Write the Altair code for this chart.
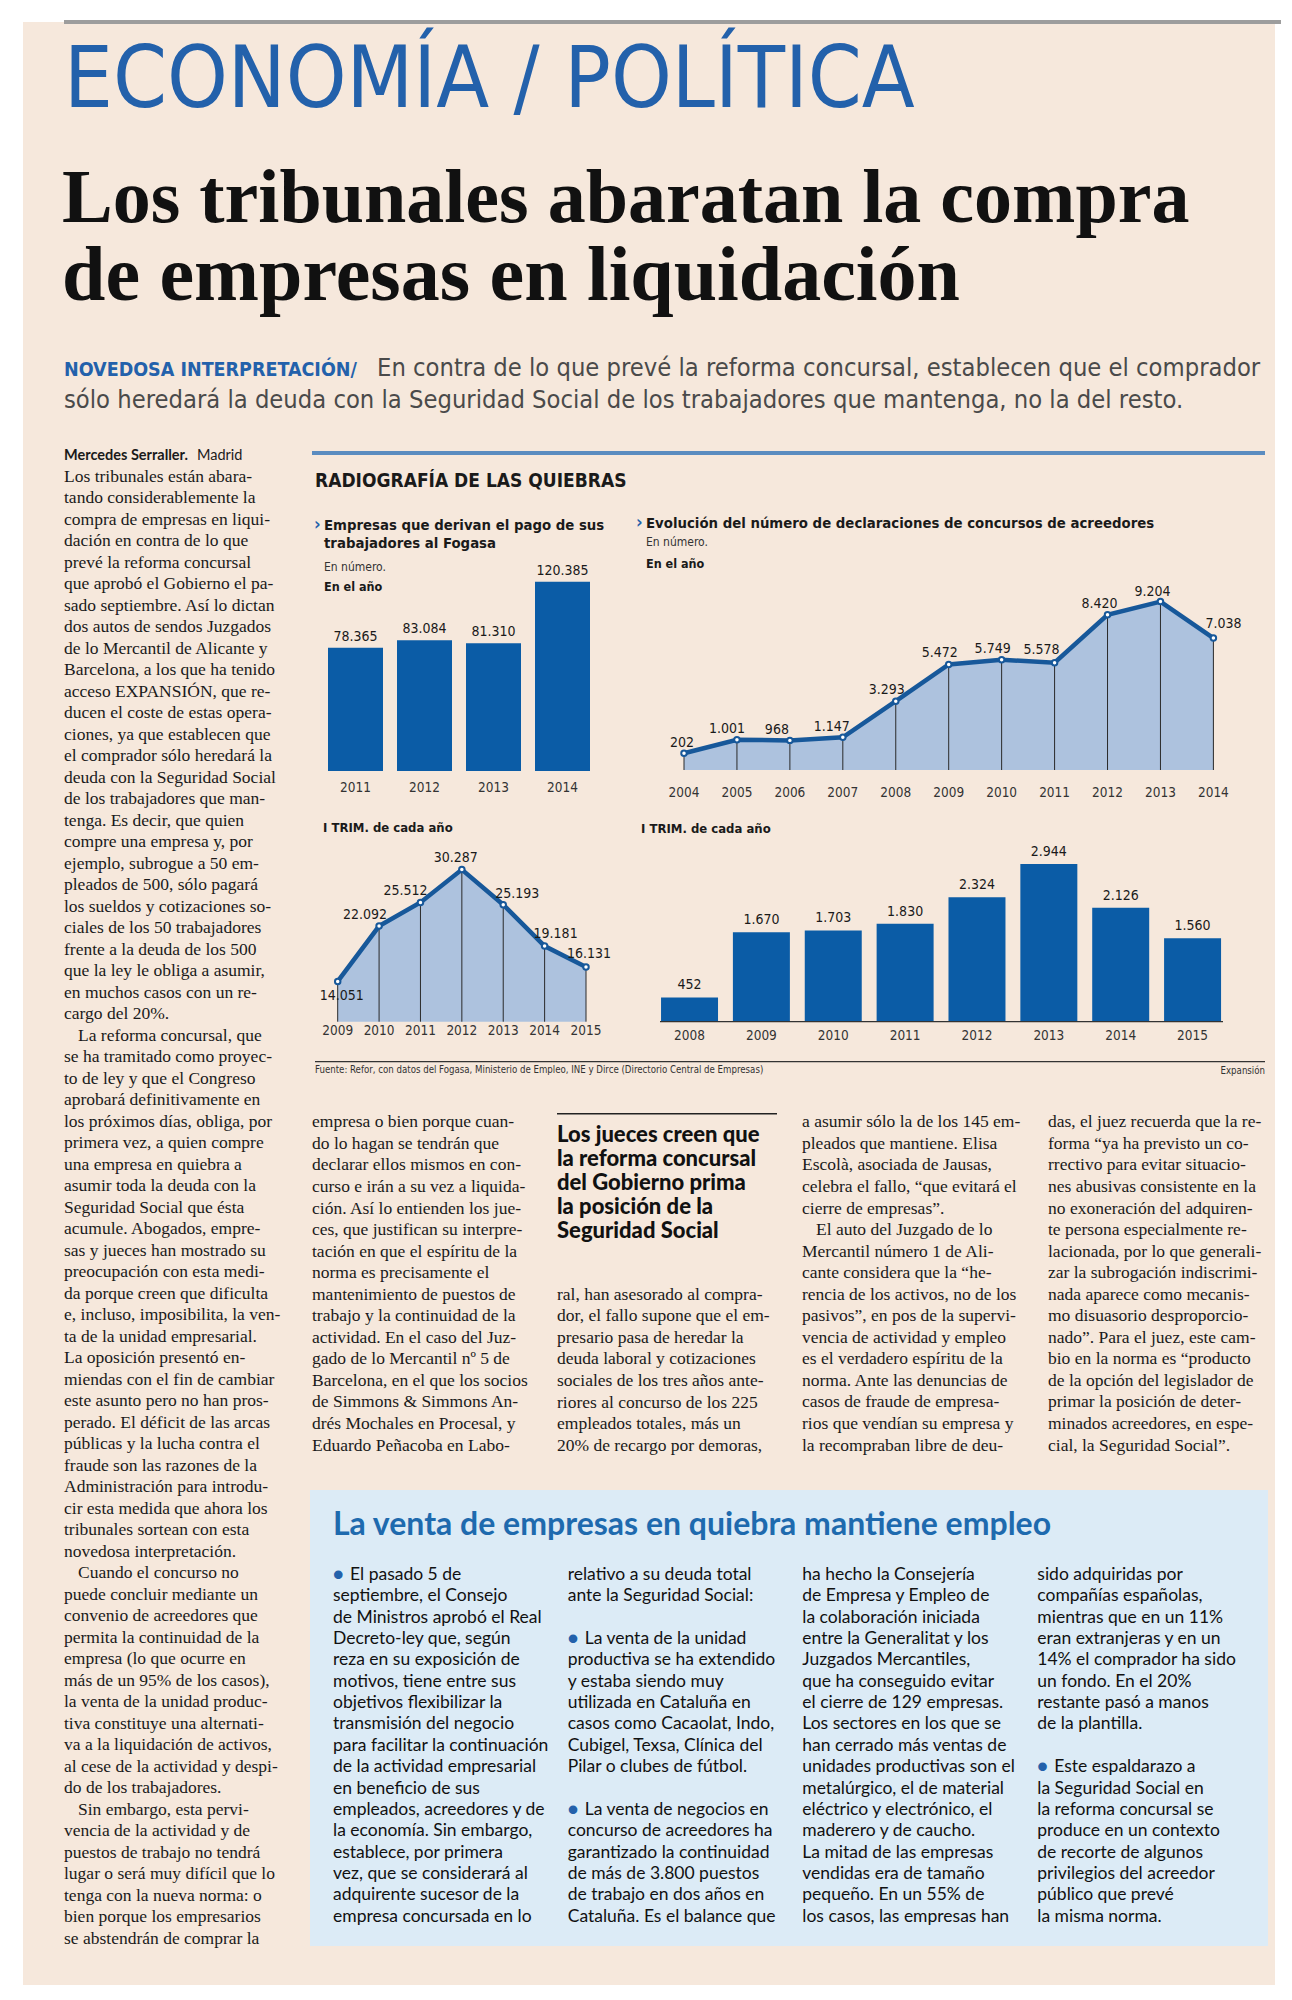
import altair as alt
import pandas as pd

# ---------------- data ----------------
fogasa_years = ["2011", "2012", "2013", "2014"]
fogasa_values = [78365, 83084, 81310, 120385]
fogasa_labels = ["78.365", "83.084", "81.310", "120.385"]

concursos_years = [2004, 2005, 2006, 2007, 2008, 2009, 2010, 2011, 2012, 2013, 2014]
concursos_values = [202, 1001, 968, 1147, 3293, 5472, 5749, 5578, 8420, 9204, 7038]
concursos_labels = ["202", "1.001", "968", "1.147", "3.293", "5.472", "5.749", "5.578", "8.420", "9.204", "7.038"]

fogasa_t1_years = [2009, 2010, 2011, 2012, 2013, 2014, 2015]
fogasa_t1_values = [14051, 22092, 25512, 30287, 25193, 19181, 16131]
fogasa_t1_labels = ["14.051", "22.092", "25.512", "30.287", "25.193", "19.181", "16.131"]

concursos_t1_years = ["2008", "2009", "2010", "2011", "2012", "2013", "2014", "2015"]
concursos_t1_values = [452, 1670, 1703, 1830, 2324, 2944, 2126, 1560]
concursos_t1_labels = ["452", "1.670", "1.703", "1.830", "2.324", "2.944", "2.126", "1.560"]

left_column = [
    "Los tribunales están abara-", "tando considerablemente la", "compra de empresas en liqui-",
    "dación en contra de lo que", "prevé la reforma concursal", "que aprobó el Gobierno el pa-",
    "sado septiembre. Así lo dictan", "dos autos de sendos Juzgados", "de lo Mercantil de Alicante y",
    "Barcelona, a los que ha tenido", "acceso EXPANSIÓN, que re-", "ducen el coste de estas opera-",
    "ciones, ya que establecen que", "el comprador sólo heredará la", "deuda con la Seguridad Social",
    "de los trabajadores que man-", "tenga. Es decir, que quien", "compre una empresa y, por",
    "ejemplo, subrogue a 50 em-", "pleados de 500, sólo pagará", "los sueldos y cotizaciones so-",
    "ciales de los 50 trabajadores", "frente a la deuda de los 500", "que la ley le obliga a asumir,",
    "en muchos casos con un re-", "cargo del 20%.", "\tLa reforma concursal, que",
    "se ha tramitado como proyec-", "to de ley y que el Congreso", "aprobará definitivamente en",
    "los próximos días, obliga, por", "primera vez, a quien compre", "una empresa en quiebra a",
    "asumir toda la deuda con la", "Seguridad Social que ésta", "acumule. Abogados, empre-",
    "sas y jueces han mostrado su", "preocupación con esta medi-", "da porque creen que dificulta",
    "e, incluso, imposibilita, la ven-", "ta de la unidad empresarial.", "La oposición presentó en-",
    "miendas con el fin de cambiar", "este asunto pero no han pros-", "perado. El déficit de las arcas",
    "públicas y la lucha contra el", "fraude son las razones de la", "Administración para introdu-",
    "cir esta medida que ahora los", "tribunales sortean con esta", "novedosa interpretación.",
    "\tCuando el concurso no", "puede concluir mediante un", "convenio de acreedores que",
    "permita la continuidad de la", "empresa (lo que ocurre en", "más de un 95% de los casos),",
    "la venta de la unidad produc-", "tiva constituye una alternati-", "va a la liquidación de activos,",
    "al cese de la actividad y despi-", "do de los trabajadores.", "\tSin embargo, esta pervi-",
    "vencia de la actividad y de", "puestos de trabajo no tendrá", "lugar o será muy difícil que lo",
    "tenga con la nueva norma: o", "bien porque los empresarios", "se abstendrán de comprar la",
]
column_a = [
    "empresa o bien porque cuan-", "do lo hagan se tendrán que", "declarar ellos mismos en con-",
    "curso e irán a su vez a liquida-", "ción. Así lo entienden los jue-", "ces, que justifican su interpre-",
    "tación en que el espíritu de la", "norma es precisamente el", "mantenimiento de puestos de",
    "trabajo y la continuidad de la", "actividad. En el caso del Juz-", "gado de lo Mercantil nº 5 de",
    "Barcelona, en el que los socios", "de Simmons & Simmons An-", "drés Mochales en Procesal, y",
    "Eduardo Peñacoba en Labo-",
]
column_b_head = ["Los jueces creen que", "la reforma concursal", "del Gobierno prima",
                 "la posición de la", "Seguridad Social"]
column_b = [
    "ral, han asesorado al compra-", "dor, el fallo supone que el em-", "presario pasa de heredar la",
    "deuda laboral y cotizaciones", "sociales de los tres años ante-", "riores al concurso de los 225",
    "empleados totales, más un", "20% de recargo por demoras,",
]
column_c = [
    "a asumir sólo la de los 145 em-", "pleados que mantiene. Elisa", "Escolà, asociada de Jausas,",
    "celebra el fallo, “que evitará el", "cierre de empresas”.", "\tEl auto del Juzgado de lo",
    "Mercantil número 1 de Ali-", "cante considera que la “he-", "rencia de los activos, no de los",
    "pasivos”, en pos de la supervi-", "vencia de actividad y empleo", "es el verdadero espíritu de la",
    "norma. Ante las denuncias de", "casos de fraude de empresa-", "rios que vendían su empresa y",
    "la recompraban libre de deu-",
]
column_d = [
    "das, el juez recuerda que la re-", "forma “ya ha previsto un co-", "rrectivo para evitar situacio-",
    "nes abusivas consistente en la", "no exoneración del adquiren-", "te persona especialmente re-",
    "lacionada, por lo que generali-", "zar la subrogación indiscrimi-", "nada aparece como mecanis-",
    "mo disuasorio desproporcio-", "nado”. Para el juez, este cam-", "bio en la norma es “producto",
    "de la opción del legislador de", "primar la posición de deter-", "minados acreedores, en espe-",
    "cial, la Seguridad Social”.",
]
box_col1 = [
    "● El pasado 5 de", "septiembre, el Consejo", "de Ministros aprobó el Real", "Decreto-ley que, según",
    "reza en su exposición de", "motivos, tiene entre sus", "objetivos flexibilizar la",
    "transmisión del negocio", "para facilitar la continuación", "de la actividad empresarial",
    "en beneficio de sus", "empleados, acreedores y de", "la economía. Sin embargo,",
    "establece, por primera", "vez, que se considerará al", "adquirente sucesor de la",
    "empresa concursada en lo",
]
box_col2 = [
    "relativo a su deuda total", "ante la Seguridad Social:", "", "● La venta de la unidad",
    "productiva se ha extendido", "y estaba siendo muy", "utilizada en Cataluña en",
    "casos como Cacaolat, Indo,", "Cubigel, Texsa, Clínica del", "Pilar o clubes de fútbol.", "",
    "● La venta de negocios en", "concurso de acreedores ha", "garantizado la continuidad",
    "de más de 3.800 puestos", "de trabajo en dos años en", "Cataluña. Es el balance que",
]
box_col3 = [
    "ha hecho la Consejería", "de Empresa y Empleo de", "la colaboración iniciada",
    "entre la Generalitat y los", "Juzgados Mercantiles,", "que ha conseguido evitar",
    "el cierre de 129 empresas.", "Los sectores en los que se", "han cerrado más ventas de",
    "unidades productivas son el", "metalúrgico, el de material", "eléctrico y electrónico, el",
    "maderero y de caucho.", "La mitad de las empresas", "vendidas era de tamaño",
    "pequeño. En un 55% de", "los casos, las empresas han",
]
box_col4 = [
    "sido adquiridas por", "compañías españolas,", "mientras que en un 11%", "eran extranjeras y en un",
    "14% el comprador ha sido", "un fondo. En el 20%", "restante pasó a manos", "de la plantilla.", "",
    "● Este espaldarazo a", "la Seguridad Social en", "la reforma concursal se",
    "produce en un contexto", "de recorte de algunos", "privilegios del acreedor",
    "público que prevé", "la misma norma.",
]

# ---------------- style ----------------
W, H = 1276, 1984
OFF = 8
NARROW = "Liberation Sans Narrow, DejaVu Sans Condensed, sans-serif"
SERIF = "Liberation Serif, DejaVu Serif, serif"
SANS = "Lato, Open Sans, sans-serif"
BLUE = "#2361ab"
BAR = "#0b5ca6"
LINE = "#17589a"
AREA = "#adc2de"
BEIGE = "#f6e8dc"
BOXBLUE = "#dcebf6"


def P(v):
    return v - OFF


one = pd.DataFrame({"a": [0]})


def rect(x0, y0, x1, y1, color):
    return alt.Chart(one).mark_rect(color=color).encode(
        x=alt.value(P(x0)), x2=alt.value(P(x1)), y=alt.value(P(y0)), y2=alt.value(P(y1)))


def label(s, x, y, size, font, color="#1a1a1a", weight="normal", align="left"):
    return alt.Chart(one).mark_text(
        text=s, align=align, baseline="alphabetic", font=font, fontSize=size,
        fontWeight=weight, color=color).encode(x=alt.value(P(x)), y=alt.value(P(y)))


def para(lines, x, y0, lh, size, font, color="#1a1a1a", weight="normal",
         bullet_color=BLUE, bullet_dx=15, indent=14):
    rows = []
    for i, s in enumerate(lines):
        b = 1 if s.startswith("● ") else 0
        ind = 1 if s.startswith("\t") else 0
        t = s[2:] if b else s.lstrip("\t")
        rows.append({"t": t, "i": i, "b": b, "ind": ind})
    df = pd.DataFrame(rows)
    base = alt.Chart(df).transform_calculate(
        py=f"{P(y0)} + datum.i * {lh}",
        px=f"{P(x)} + datum.b * {bullet_dx} + datum.ind * {indent}")
    out = [base.mark_text(align="left", baseline="alphabetic", font=font, fontSize=size,
                          fontWeight=weight, color=color).encode(
        x=alt.X("px:Q", scale=None), y=alt.Y("py:Q", scale=None), text="t:N")]
    if df["b"].sum() > 0:
        out.append(base.transform_filter("datum.b == 1").mark_text(
            text="●", align="left", baseline="alphabetic", font=font, fontSize=size,
            color=bullet_color).encode(x=alt.value(P(x)), y=alt.Y("py:Q", scale=None)))
    return out


layers = []

# page background
layers.append(rect(23, 22, 1275, 1985, BEIGE))
layers.append(rect(64, 20, 1281, 24, "#9d9d9d"))

# header
layers.append(label("ECONOMÍA / POLÍTICA", 64, 107, 86, NARROW, color=BLUE))
layers.append(label("Los tribunales abaratan la compra", 62, 222, 76, SERIF, color="#111", weight="bold"))
layers.append(label("de empresas en liquidación", 62, 300, 78, SERIF, color="#111", weight="bold"))
layers.append(label("NOVEDOSA INTERPRETACIÓN/", 64, 376, 19.5, NARROW, color=BLUE, weight="bold"))
layers.append(label("En contra de lo que prevé la reforma concursal, establecen que el comprador",
                    377, 376, 25.3, NARROW, color="#4a4a4a"))
layers.append(label("sólo heredará la deuda con la Seguridad Social de los trabajadores que mantenga, no la del resto.",
                    64, 408, 25.3, NARROW, color="#4a4a4a"))

# left column
layers.append(label("Mercedes Serraller.", 64, 460, 14.5, SANS, color="#1a1a1a", weight="bold"))
layers.append(label("Madrid", 197, 460, 14.5, SANS, color="#1a1a1a"))
layers += para(left_column, 64, 481.5, 21.5, 17.5, SERIF)

# ---------------- infographic ----------------
layers.append(rect(312, 451, 1265, 455, "#5b8cc0"))
layers.append(label("RADIOGRAFÍA DE LAS QUIEBRAS", 315, 487, 19, NARROW, weight="bold"))

TS = 14.8
# chart 1: Fogasa, annual bars
layers.append(label("›", 314, 530, 18, NARROW, color=BLUE, weight="bold"))
layers.append(label("Empresas que derivan el pago de sus", 324, 530, TS, NARROW, weight="bold"))
layers.append(label("trabajadores al Fogasa", 324, 548, TS, NARROW, weight="bold"))
layers.append(label("En número.", 324, 571, 12, NARROW, color="#333"))
layers.append(label("En el año", 324, 591, 12.5, NARROW, weight="bold"))

VS = 14
YS = 13.5
df1 = pd.DataFrame({"year": fogasa_years, "value": fogasa_values, "label": fogasa_labels})
xs1 = alt.Scale(domain=fogasa_years, range=[P(321), P(597)], paddingInner=0.203, paddingOuter=0.1015)
ys1 = alt.Scale(domain=[0, 130000], range=[P(771), P(566.6)], nice=False, zero=False)
c1 = alt.Chart(df1)
layers.append(c1.mark_bar(color=BAR).encode(
    x=alt.X("year:O", scale=xs1, axis=None), y=alt.Y("value:Q", scale=ys1, axis=None)))
layers.append(c1.mark_text(baseline="alphabetic", dy=-7, font=NARROW, fontSize=VS, color="#1a1a1a").encode(
    x=alt.X("year:O", scale=xs1, axis=None), y=alt.Y("value:Q", scale=ys1, axis=None), text="label:N"))
layers.append(c1.mark_text(baseline="alphabetic", font=NARROW, fontSize=YS, color="#333").encode(
    x=alt.X("year:O", scale=xs1, axis=None), y=alt.value(P(792)), text="year:N"))

# chart 2: concursos, annual area
layers.append(label("›", 636, 528, 18, NARROW, color=BLUE, weight="bold"))
layers.append(label("Evolución del número de declaraciones de concursos de acreedores", 646, 528, TS,
                    NARROW, weight="bold"))
layers.append(label("En número.", 646, 546, 12, NARROW, color="#333"))
layers.append(label("En el año", 646, 568, 12.5, NARROW, weight="bold"))

df2 = pd.DataFrame({"year": concursos_years, "value": concursos_values, "label": concursos_labels})
xs2 = alt.Scale(domain=[2004, 2014], range=[P(684), P(1213.4)], nice=False, zero=False)
ys2 = alt.Scale(domain=[-790, 10000], range=[P(770), P(588.2)], nice=False, zero=False)
c2 = alt.Chart(df2)
X2 = alt.X("year:Q", scale=xs2, axis=None)
Y2 = alt.Y("value:Q", scale=ys2, axis=None)
layers.append(c2.mark_area(color=AREA, opacity=1).encode(x=X2, y=Y2, y2=alt.datum(-790)))
layers.append(c2.mark_rule(color="#2a2a2a", strokeWidth=1).encode(x=X2, y=Y2, y2=alt.datum(-790)))
layers.append(c2.mark_line(color=LINE, strokeWidth=4.5).encode(x=X2, y=Y2))
layers.append(c2.mark_point(shape="circle", size=30, filled=True, fill="white", stroke=LINE,
                            strokeWidth=2, opacity=1).encode(x=X2, y=Y2))
nudge2 = {2004: (-2, -6), 2005: (-10, -7), 2006: (-13, -6), 2007: (-11, -6), 2008: (-9, -7),
          2009: (-9, -7), 2010: (-9, -7), 2011: (-13, -9), 2012: (-8, -7), 2013: (-8, -6), 2014: (10, -10)}
for yr, (dx, dy) in nudge2.items():
    layers.append(c2.transform_filter(f"datum.year == {yr}").mark_text(
        baseline="alphabetic", dx=dx, dy=dy, font=NARROW, fontSize=VS, color="#1a1a1a").encode(
        x=X2, y=Y2, text="label:N"))
layers.append(c2.mark_text(baseline="alphabetic", font=NARROW, fontSize=YS, color="#333").encode(
    x=X2, y=alt.value(P(797)), text="year:N"))

# chart 3: Fogasa, first quarter line
layers.append(label("I TRIM. de cada año", 323, 832, 13, NARROW, weight="bold"))
df3 = pd.DataFrame({"year": fogasa_t1_years, "value": fogasa_t1_values, "label": fogasa_t1_labels})
xs3 = alt.Scale(domain=[2009, 2015], range=[P(337.7), P(586)], nice=False, zero=False)
ys3 = alt.Scale(domain=[8200, 32000], range=[P(1021.7), P(857.8)], nice=False, zero=False)
c3 = alt.Chart(df3)
X3 = alt.X("year:Q", scale=xs3, axis=None)
Y3 = alt.Y("value:Q", scale=ys3, axis=None)
layers.append(c3.mark_area(color=AREA, opacity=1).encode(x=X3, y=Y3, y2=alt.datum(8200)))
layers.append(c3.mark_rule(color="#2a2a2a", strokeWidth=1).encode(x=X3, y=Y3, y2=alt.datum(8200)))
layers.append(c3.mark_line(color=LINE, strokeWidth=4.5).encode(x=X3, y=Y3))
layers.append(c3.mark_point(shape="circle", size=30, filled=True, fill="white", stroke=LINE,
                            strokeWidth=2, opacity=1).encode(x=X3, y=Y3))
nudge3 = {2009: (4, 19), 2010: (-14, -7), 2011: (-15, -7), 2012: (-6, -8), 2013: (14, -7),
          2014: (11, -8), 2015: (3, -9)}
for yr, (dx, dy) in nudge3.items():
    layers.append(c3.transform_filter(f"datum.year == {yr}").mark_text(
        baseline="alphabetic", dx=dx, dy=dy, font=NARROW, fontSize=VS, color="#1a1a1a").encode(
        x=X3, y=Y3, text="label:N"))
layers.append(c3.mark_text(baseline="alphabetic", font=NARROW, fontSize=YS, color="#333").encode(
    x=X3, y=alt.value(P(1035)), text="year:N"))

# chart 4: concursos, first quarter bars
layers.append(label("I TRIM. de cada año", 641, 833, 13, NARROW, weight="bold"))
df4 = pd.DataFrame({"year": concursos_t1_years, "value": concursos_t1_values, "label": concursos_t1_labels})
xs4 = alt.Scale(domain=concursos_t1_years, range=[P(653.6), P(1228.5)], paddingInner=0.207, paddingOuter=0.1035)
ys4 = alt.Scale(domain=[0, 3200], range=[P(1021.7), P(850.3)], nice=False, zero=False)
c4 = alt.Chart(df4)
X4 = alt.X("year:O", scale=xs4, axis=None)
Y4 = alt.Y("value:Q", scale=ys4, axis=None)
layers.append(c4.mark_bar(color=BAR).encode(x=X4, y=Y4))
layers.append(alt.Chart(pd.DataFrame({"v": [0]})).mark_rule(color="#333", strokeWidth=1.2).encode(
    y=alt.Y("v:Q", scale=ys4, axis=None), x=alt.value(P(660)), x2=alt.value(P(1223))))
layers.append(c4.mark_text(baseline="alphabetic", dy=-8, font=NARROW, fontSize=VS, color="#1a1a1a").encode(
    x=X4, y=Y4, text="label:N"))
layers.append(c4.mark_text(baseline="alphabetic", font=NARROW, fontSize=YS, color="#333").encode(
    x=X4, y=alt.value(P(1040)), text="year:N"))

# source
layers.append(rect(315, 1061, 1265, 1062.3, "#333"))
layers.append(label("Fuente: Refor, con datos del Fogasa, Ministerio de Empleo, INE y Dirce (Directorio Central de Empresas)",
                    315, 1073, 9.6, NARROW, color="#333"))
layers.append(label("Expansión", 1265, 1074, 9.6, NARROW, color="#333", align="right"))

# ---------------- columns below the infographic ----------------
layers += para(column_a, 312, 1127.3, 21.55, 17.5, SERIF)
layers.append(rect(557, 1113, 777, 1114.5, "#222"))
layers += para(column_b_head, 557, 1141.7, 24.15, 22, SANS, color="#111", weight=900)
layers += para(column_b, 557, 1299.8, 21.55, 17.5, SERIF)
layers += para(column_c, 802, 1127.3, 21.55, 17.5, SERIF)
layers += para(column_d, 1048, 1127.3, 21.55, 17.5, SERIF)

# ---------------- blue box ----------------
layers.append(rect(310, 1490, 1268, 1946, BOXBLUE))
layers.append(label("La venta de empresas en quiebra mantiene empleo", 333, 1535, 32, SANS,
                    color="#1e6aae", weight="bold"))
BX = 17.5
layers += para(box_col1, 333, 1580, 21.35, BX, SANS, color="#111", bullet_dx=17)
layers += para(box_col2, 567.7, 1580, 21.35, BX, SANS, color="#111", bullet_dx=17)
layers += para(box_col3, 802.3, 1580, 21.35, BX, SANS, color="#111", bullet_dx=17)
layers += para(box_col4, 1037.3, 1580, 21.35, BX, SANS, color="#111", bullet_dx=17)

chart = alt.layer(*layers).resolve_scale(x="independent", y="independent").properties(
    width=W, height=H, padding=0, autosize=alt.AutoSizeParams(type="none"), background="white"
).configure_view(strokeWidth=0)

chart.save("out.html", embed_options={"renderer": "svg", "actions": False})
